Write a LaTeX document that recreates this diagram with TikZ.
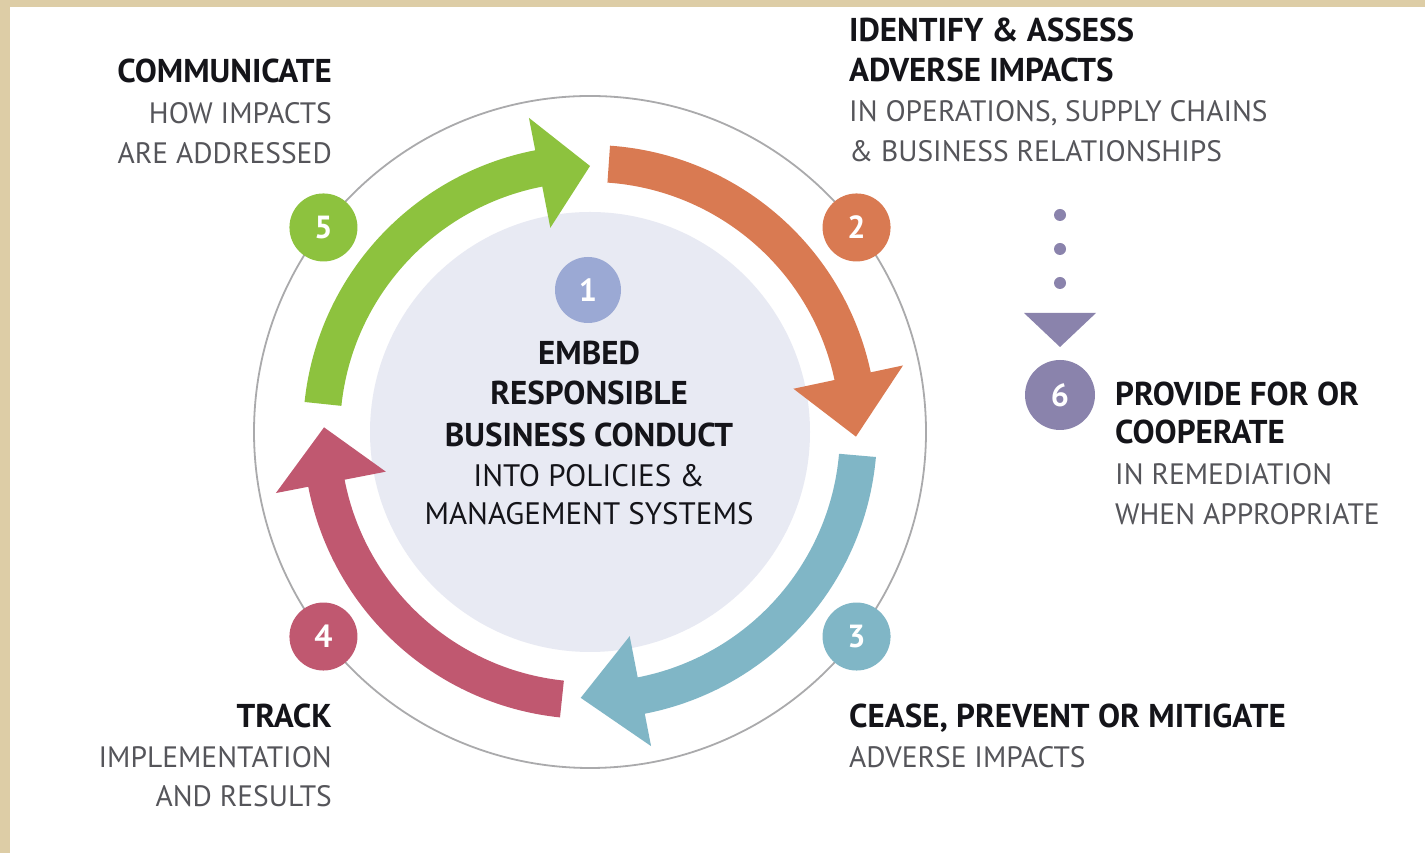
\documentclass[tikz,border=0pt]{standalone}
\usepackage{fontspec}
\setmainfont{PT Sans}
\definecolor{beige}{RGB}{221,205,166}
\definecolor{pale}{RGB}{232,234,243}
\definecolor{ringgray}{RGB}{170,170,172}
\definecolor{cgreen}{RGB}{141,194,62}
\definecolor{corange}{RGB}{217,122,82}
\definecolor{cteal}{RGB}{128,182,198}
\definecolor{cred}{RGB}{192,88,112}
\definecolor{cblue}{RGB}{155,169,212}
\definecolor{cpurple}{RGB}{138,131,172}
\definecolor{txtgray}{RGB}{85,85,90}
\definecolor{txtdark}{RGB}{20,20,25}
\newcommand\cyclearrow[4]{%
  \fill[#1] ([shift={(C)}]#2:287) arc[start angle=#2, end angle=#3, radius=287]
    -- ([shift={(C)}]#3:320) -- ([shift={(C)}]#4:266) -- ([shift={(C)}]#3:208)
    -- ([shift={(C)}]#3:250) arc[start angle=#3, end angle=#2, radius=250] -- cycle;}
\tikzset{
  numcirc/.style={circle, inner sep=0pt, minimum size=68pt, text=white,
    font=\fontsize{32}{32}\selectfont\bfseries},
  headline/.style={inner sep=0pt, text=txtdark, font=\fontsize{33}{33}\selectfont\bfseries},
  subline/.style={inner sep=0pt, text=txtgray, font=\fontsize{29.5}{29.5}\selectfont},
  darkline/.style={inner sep=0pt, text=txtdark, font=\fontsize{31}{31}\selectfont},
}
\begin{document}
\begin{tikzpicture}[x=1pt,y=1pt]
\useasboundingbox (0,0) rectangle (1425,853);
\fill[white] (0,0) rectangle (1425,853);
\fill[beige] (0,846) rectangle (1425,853);
\fill[beige] (0,0) rectangle (10,853);
\coordinate (C) at (590,421);
\fill[pale] (C) circle[radius=220];
\draw[ringgray, line width=1.8pt] (C) circle[radius=336];
% cycle arrows
\cyclearrow{corange}{86}{12}{-1}
\cyclearrow{cteal}{-5}{-79}{-92}
\cyclearrow{cred}{-96}{-169}{-181}
\cyclearrow{cgreen}{174}{101}{90}
% number circles
\node[numcirc, fill=cgreen]  (n5) at ([shift={(C)}]142.5:336) {5};
\node[numcirc, fill=corange] (n2) at ([shift={(C)}]37.5:336) {2};
\node[numcirc, fill=cteal]   (n3) at ([shift={(C)}]-37.5:336) {3};
\node[numcirc, fill=cred]    (n4) at ([shift={(C)}]-142.5:336) {4};
\node[numcirc, fill=cblue, minimum size=66pt] (n1) at (588,563) {1};
\node[numcirc, fill=cpurple, minimum size=70pt] (n6) at (1060,458) {6};
% dotted pointer to 6
\fill[cpurple] (1060,638) circle[radius=6];
\fill[cpurple] (1060,604) circle[radius=6];
\fill[cpurple] (1060,570) circle[radius=6];
\coordinate (tri) at (1060,540);
\fill[cpurple] ([xshift=-36pt]tri) -- ([xshift=36pt]tri) -- ([yshift=-34pt]tri) -- cycle;
% texts: communicate
\node[headline, anchor=base east] (t5a) at (332,770) {COMMUNICATE};
\node[subline, anchor=base east] (t5b) at (332,729) {HOW IMPACTS};
\node[subline, anchor=base east] (t5c) at (332,689) {ARE ADDRESSED};
% identify
\node[headline, anchor=base west] (t2a) at (849,811) {IDENTIFY \& ASSESS};
\node[headline, anchor=base west] (t2b) at (849,771) {ADVERSE IMPACTS};
\node[subline, anchor=base west] (t2c) at (849,731) {IN OPERATIONS, SUPPLY CHAINS};
\node[subline, anchor=base west] (t2d) at (849,691) {\& BUSINESS RELATIONSHIPS};
% provide
\node[headline, anchor=base west] (t6a) at (1115,447) {PROVIDE FOR OR};
\node[headline, anchor=base west] (t6b) at (1115,409) {COOPERATE};
\node[subline, anchor=base west] (t6c) at (1115,368) {IN REMEDIATION};
\node[subline, anchor=base west] (t6d) at (1115,328) {WHEN APPROPRIATE};
% track
\node[headline, anchor=base east] (t4a) at (332,125) {TRACK};
\node[subline, anchor=base east] (t4b) at (332,85) {IMPLEMENTATION};
\node[subline, anchor=base east] (t4c) at (332,46) {AND RESULTS};
% cease
\node[headline, anchor=base west] (t3a) at (849,125) {CEASE, PREVENT OR MITIGATE};
\node[subline, anchor=base west] (t3b) at (849,85) {ADVERSE IMPACTS};
% center
\node[headline, anchor=base] (t1a) at (589,488) {EMBED};
\node[headline, anchor=base] (t1b) at (589,448) {RESPONSIBLE};
\node[headline, anchor=base] (t1c) at (589,406) {BUSINESS CONDUCT};
\node[darkline, anchor=base] (t1d) at (589,366) {INTO POLICIES \&};
\node[darkline, anchor=base] (t1e) at (589,328) {MANAGEMENT SYSTEMS};
\end{tikzpicture}
\end{document}
